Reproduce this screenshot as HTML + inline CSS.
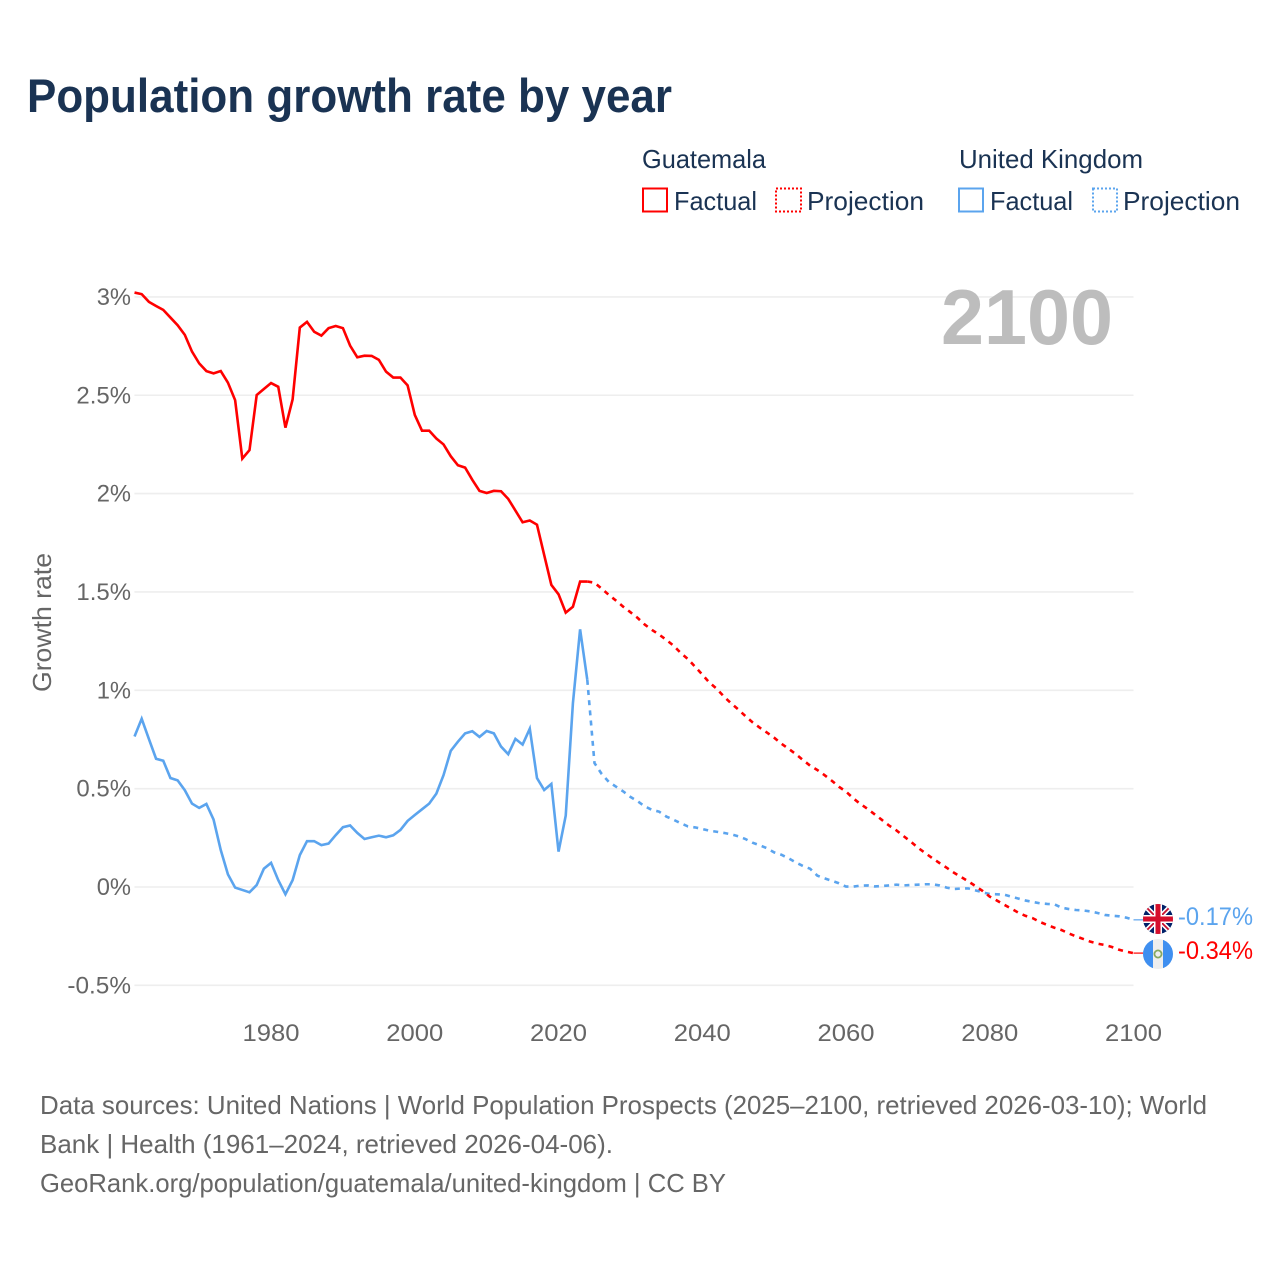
<!DOCTYPE html>
<html lang="en">
<head>
<meta charset="utf-8">
<title>Population growth rate by year</title>
<style>
html,body{margin:0;padding:0;background:#fff;width:1280px;height:1280px;overflow:hidden}
svg{display:block}
text{font-family:"Liberation Sans",sans-serif}
</style>
</head>
<body>
<svg id="chart" xmlns="http://www.w3.org/2000/svg" width="1280" height="1280" viewBox="0 0 1280 1280">
  <defs>
    <clipPath id="uk-clip"><circle cx="1158" cy="919" r="15"/></clipPath>
    <clipPath id="gt-clip"><circle cx="1158" cy="954" r="15"/></clipPath>
  </defs>
  <rect width="1280" height="1280" fill="#fff"/>
  <text x="27" y="112" font-size="47" font-weight="700" fill="#1a3353" textLength="645" lengthAdjust="spacingAndGlyphs">Population growth rate by year</text>

  <g font-size="26" fill="#1a3353">
    <text x="642" y="168" textLength="124" lengthAdjust="spacingAndGlyphs">Guatemala</text>
    <text x="959" y="168" textLength="184" lengthAdjust="spacingAndGlyphs">United Kingdom</text>
    <rect x="643" y="188.5" width="24" height="23" fill="none" stroke="#ff0000" stroke-width="2"/>
    <text x="674" y="210" textLength="83" lengthAdjust="spacingAndGlyphs">Factual</text>
    <rect x="776" y="188.5" width="25" height="23" fill="none" stroke="#ff0000" stroke-width="2" stroke-dasharray="2 2"/>
    <text x="807" y="210" textLength="117" lengthAdjust="spacingAndGlyphs">Projection</text>
    <rect x="959" y="188.5" width="24" height="23" fill="none" stroke="#5ba4ee" stroke-width="2"/>
    <text x="990" y="210" textLength="83" lengthAdjust="spacingAndGlyphs">Factual</text>
    <rect x="1093" y="188.5" width="24" height="23" fill="none" stroke="#5ba4ee" stroke-width="2" stroke-dasharray="2 2"/>
    <text x="1123" y="210" textLength="117" lengthAdjust="spacingAndGlyphs">Projection</text>
  </g>

  <g id="grid"></g>
  <g id="y-ticks"></g>
  <g id="x-ticks"></g>

  <text transform="translate(51,692) rotate(-90)" font-size="26" fill="#666" textLength="139" lengthAdjust="spacingAndGlyphs">Growth rate</text>
  <text x="941" y="344" font-size="78" font-weight="700" fill="#bdbdbd" textLength="172" lengthAdjust="spacingAndGlyphs">2100</text>

  <g id="series"></g>

  <g clip-path="url(#uk-clip)">
    <rect x="1143" y="904" width="30" height="30" fill="#012169"/>
    <path d="M1143 904L1173 934M1173 904L1143 934" stroke="#fff" stroke-width="5"/>
    <path d="M1143 904L1173 934M1173 904L1143 934" stroke="#c8102e" stroke-width="1.8"/>
    <path d="M1158 904V934M1143 919H1173" stroke="#fff" stroke-width="8"/>
    <path d="M1158 904V934M1143 919H1173" stroke="#d50f2c" stroke-width="5"/>
  </g>
  <g clip-path="url(#gt-clip)">
    <rect x="1143" y="939" width="30" height="30" fill="#eeeeee"/>
    <rect x="1143" y="939" width="10" height="30" fill="#3f8ff0"/>
    <rect x="1163" y="939" width="10" height="30" fill="#3f8ff0"/>
    <circle cx="1158" cy="954" r="3.6" fill="none" stroke="#86a860" stroke-width="1.8"/>
  </g>
  <text x="1178" y="925" font-size="25" fill="#5ba4ee" textLength="75" lengthAdjust="spacingAndGlyphs">-0.17%</text>
  <text x="1178" y="959" font-size="25" fill="#ff0000" textLength="75" lengthAdjust="spacingAndGlyphs">-0.34%</text>

  <g font-size="26" fill="#666">
    <text x="40" y="1114" textLength="1167" lengthAdjust="spacingAndGlyphs">Data sources: United Nations | World Population Prospects (2025–2100, retrieved 2026-03-10); World</text>
    <text x="40" y="1153" textLength="573" lengthAdjust="spacingAndGlyphs">Bank | Health (1961–2024, retrieved 2026-04-06).</text>
    <text x="40" y="1192" textLength="686" lengthAdjust="spacingAndGlyphs">GeoRank.org/population/guatemala/united-kingdom | CC BY</text>
  </g>
</svg>
<script>
const yTickValues = [3, 2.5, 2, 1.5, 1, 0.5, 0, -0.5];
const yTickLabels = ["3%", "2.5%", "2%", "1.5%", "1%", "0.5%", "0%", "-0.5%"];
const xTickValues = [1980, 2000, 2020, 2040, 2060, 2080, 2100];
const xTickLabels = ["1980", "2000", "2020", "2040", "2060", "2080", "2100"];
const factualStartYear = 1961;
const projectionStartYear = 2024;

const guatemalaFactual = [3.022,3.014,2.975,2.954,2.934,2.895,2.856,2.807,2.722,2.662,
  2.623,2.611,2.623,2.564,2.475,2.178,2.221,2.501,2.532,2.562,
  2.543,2.335,2.479,2.844,2.873,2.823,2.803,2.841,2.852,2.841,
  2.752,2.693,2.701,2.70,2.68,2.62,2.59,2.59,2.55,2.40,
  2.32,2.32,2.28,2.25,2.19,2.144,2.132,2.07,2.014,2.003,
  2.014,2.012,1.973,1.914,1.854,1.863,1.842,1.688,1.536,1.488,
  1.395,1.425,1.553,1.553];

const guatemalaProjection = [1.553,1.547,1.517,1.485,1.456,1.425,1.397,1.368,1.334,1.307,
  1.283,1.256,1.227,1.19,1.159,1.12,1.08,1.039,1.008,0.969,
  0.934,0.903,0.869,0.837,0.81,0.785,0.759,0.729,0.703,0.676,
  0.646,0.617,0.595,0.569,0.541,0.51,0.485,0.451,0.422,0.397,
  0.369,0.341,0.312,0.288,0.259,0.231,0.2,0.173,0.147,0.122,
  0.098,0.073,0.051,0.029,0.005,-0.02,-0.049,-0.069,-0.09,-0.11,
  -0.131,-0.147,-0.159,-0.178,-0.193,-0.207,-0.219,-0.236,-0.251,-0.264,
  -0.278,-0.288,-0.295,-0.305,-0.319,-0.329,-0.336];

const ukFactual = [0.765,0.855,0.753,0.652,0.642,0.554,0.542,0.492,0.424,0.402,
  0.422,0.343,0.188,0.064,-0.003,-0.015,-0.027,0.01,0.093,0.123,
  0.035,-0.037,0.035,0.162,0.233,0.233,0.213,0.221,0.264,0.304,
  0.313,0.275,0.244,0.253,0.261,0.253,0.263,0.29,0.336,0.366,
  0.395,0.424,0.475,0.569,0.692,0.739,0.781,0.792,0.763,0.793,
  0.781,0.714,0.675,0.753,0.724,0.805,0.554,0.493,0.524,0.18,
  0.363,0.934,1.31,1.053];

const ukProjection = [1.053,0.63,0.575,0.534,0.51,0.486,0.458,0.436,0.41,0.392,
  0.383,0.358,0.342,0.324,0.308,0.303,0.295,0.286,0.281,0.275,
  0.268,0.258,0.244,0.225,0.212,0.197,0.176,0.164,0.146,0.125,
  0.107,0.093,0.058,0.044,0.032,0.019,0.002,0.002,0.007,0.008,
  0.003,0.005,0.008,0.012,0.008,0.01,0.012,0.014,0.014,0.008,
  -0.003,-0.01,-0.008,-0.007,-0.017,-0.027,-0.036,-0.037,-0.039,-0.049,
  -0.059,-0.069,-0.076,-0.083,-0.086,-0.088,-0.105,-0.112,-0.117,-0.119,
  -0.124,-0.132,-0.142,-0.146,-0.149,-0.156,-0.167];

const NS = "http://www.w3.org/2000/svg";
const plotLeft = 134.4;
const plotRight = 1133.5;
function xScale(year) { return 1133.5 - (2100 - year) * 7.187; }
function yScale(value) { return 887 - value * 196.7; }
function labelWidth(label) {
  let w = 0;
  for (const c of label) {
    if (c === "%") w += 20;
    else if (c === ".") w += 6;
    else if (c === "-") w += 9;
    else w += 14.3;
  }
  return w;
}
function pathFrom(values, startYear) {
  return values.map((v, i) => (i ? "L" : "M") + xScale(startYear + i).toFixed(2) + " " + yScale(v).toFixed(2)).join("");
}

const grid = document.getElementById("grid");
const yTicks = document.getElementById("y-ticks");
yTickValues.forEach((v, i) => {
  const line = document.createElementNS(NS, "line");
  
  
  line.setAttribute("x1", plotLeft);
  line.setAttribute("x2", plotRight);
  line.setAttribute("y1", yScale(v));
  line.setAttribute("y2", yScale(v));
  line.setAttribute("stroke", "#eeeeee");
  line.setAttribute("stroke-width", "1.6");
  grid.appendChild(line);

  const t = document.createElementNS(NS, "text");
  
  
  t.setAttribute("x", 131);
  t.setAttribute("y", yScale(v) + 8);
  t.setAttribute("text-anchor", "end");
  t.setAttribute("font-size", "24");
  t.setAttribute("fill", "#666");
  t.setAttribute("textLength", labelWidth(yTickLabels[i]));
  t.setAttribute("lengthAdjust", "spacingAndGlyphs");
  t.textContent = yTickLabels[i];
  yTicks.appendChild(t);
});

const xTicks = document.getElementById("x-ticks");
xTickValues.forEach((year, i) => {
  const t = document.createElementNS(NS, "text");
  
  
  t.setAttribute("x", xScale(year));
  t.setAttribute("y", 1041);
  t.setAttribute("text-anchor", "middle");
  t.setAttribute("font-size", "24");
  t.setAttribute("fill", "#666");
  t.setAttribute("textLength", "57");
  t.setAttribute("lengthAdjust", "spacingAndGlyphs");
  t.textContent = xTickLabels[i];
  xTicks.appendChild(t);
});

const series = document.getElementById("series");

const ukFactualLine = document.createElementNS(NS, "path");


ukFactualLine.setAttribute("d", pathFrom(ukFactual, factualStartYear));
ukFactualLine.setAttribute("fill", "none");
ukFactualLine.setAttribute("stroke", "#5ba4ee");
ukFactualLine.setAttribute("stroke-width", "2.6");
series.appendChild(ukFactualLine);

const ukProjectionLine = document.createElementNS(NS, "path");


ukProjectionLine.setAttribute("d", pathFrom(ukProjection, projectionStartYear));
ukProjectionLine.setAttribute("fill", "none");
ukProjectionLine.setAttribute("stroke", "#5ba4ee");
ukProjectionLine.setAttribute("stroke-width", "2.6");
ukProjectionLine.setAttribute("stroke-dasharray", "5 5.2");
series.appendChild(ukProjectionLine);

const guatemalaFactualLine = document.createElementNS(NS, "path");


guatemalaFactualLine.setAttribute("d", pathFrom(guatemalaFactual, factualStartYear));
guatemalaFactualLine.setAttribute("fill", "none");
guatemalaFactualLine.setAttribute("stroke", "#ff0000");
guatemalaFactualLine.setAttribute("stroke-width", "2.6");
series.appendChild(guatemalaFactualLine);

const guatemalaProjectionLine = document.createElementNS(NS, "path");


guatemalaProjectionLine.setAttribute("d", pathFrom(guatemalaProjection, projectionStartYear));
guatemalaProjectionLine.setAttribute("fill", "none");
guatemalaProjectionLine.setAttribute("stroke", "#ff0000");
guatemalaProjectionLine.setAttribute("stroke-width", "2.6");
guatemalaProjectionLine.setAttribute("stroke-dasharray", "5 5.2");
series.appendChild(guatemalaProjectionLine);

const ukConnector = document.createElementNS(NS, "line");


ukConnector.setAttribute("x1", xScale(2100));
ukConnector.setAttribute("x2", 1145);
ukConnector.setAttribute("y1", yScale(ukProjection[ukProjection.length - 1]));
ukConnector.setAttribute("y2", yScale(ukProjection[ukProjection.length - 1]));
ukConnector.setAttribute("stroke", "#5ba4ee");
ukConnector.setAttribute("stroke-width", "1.2");
series.appendChild(ukConnector);

const guatemalaConnector = document.createElementNS(NS, "line");


guatemalaConnector.setAttribute("x1", xScale(2100));
guatemalaConnector.setAttribute("x2", 1145);
guatemalaConnector.setAttribute("y1", yScale(guatemalaProjection[guatemalaProjection.length - 1]));
guatemalaConnector.setAttribute("y2", yScale(guatemalaProjection[guatemalaProjection.length - 1]));
guatemalaConnector.setAttribute("stroke", "#ff0000");
guatemalaConnector.setAttribute("stroke-width", "1.2");
series.appendChild(guatemalaConnector);
</script>
</body>
</html>
